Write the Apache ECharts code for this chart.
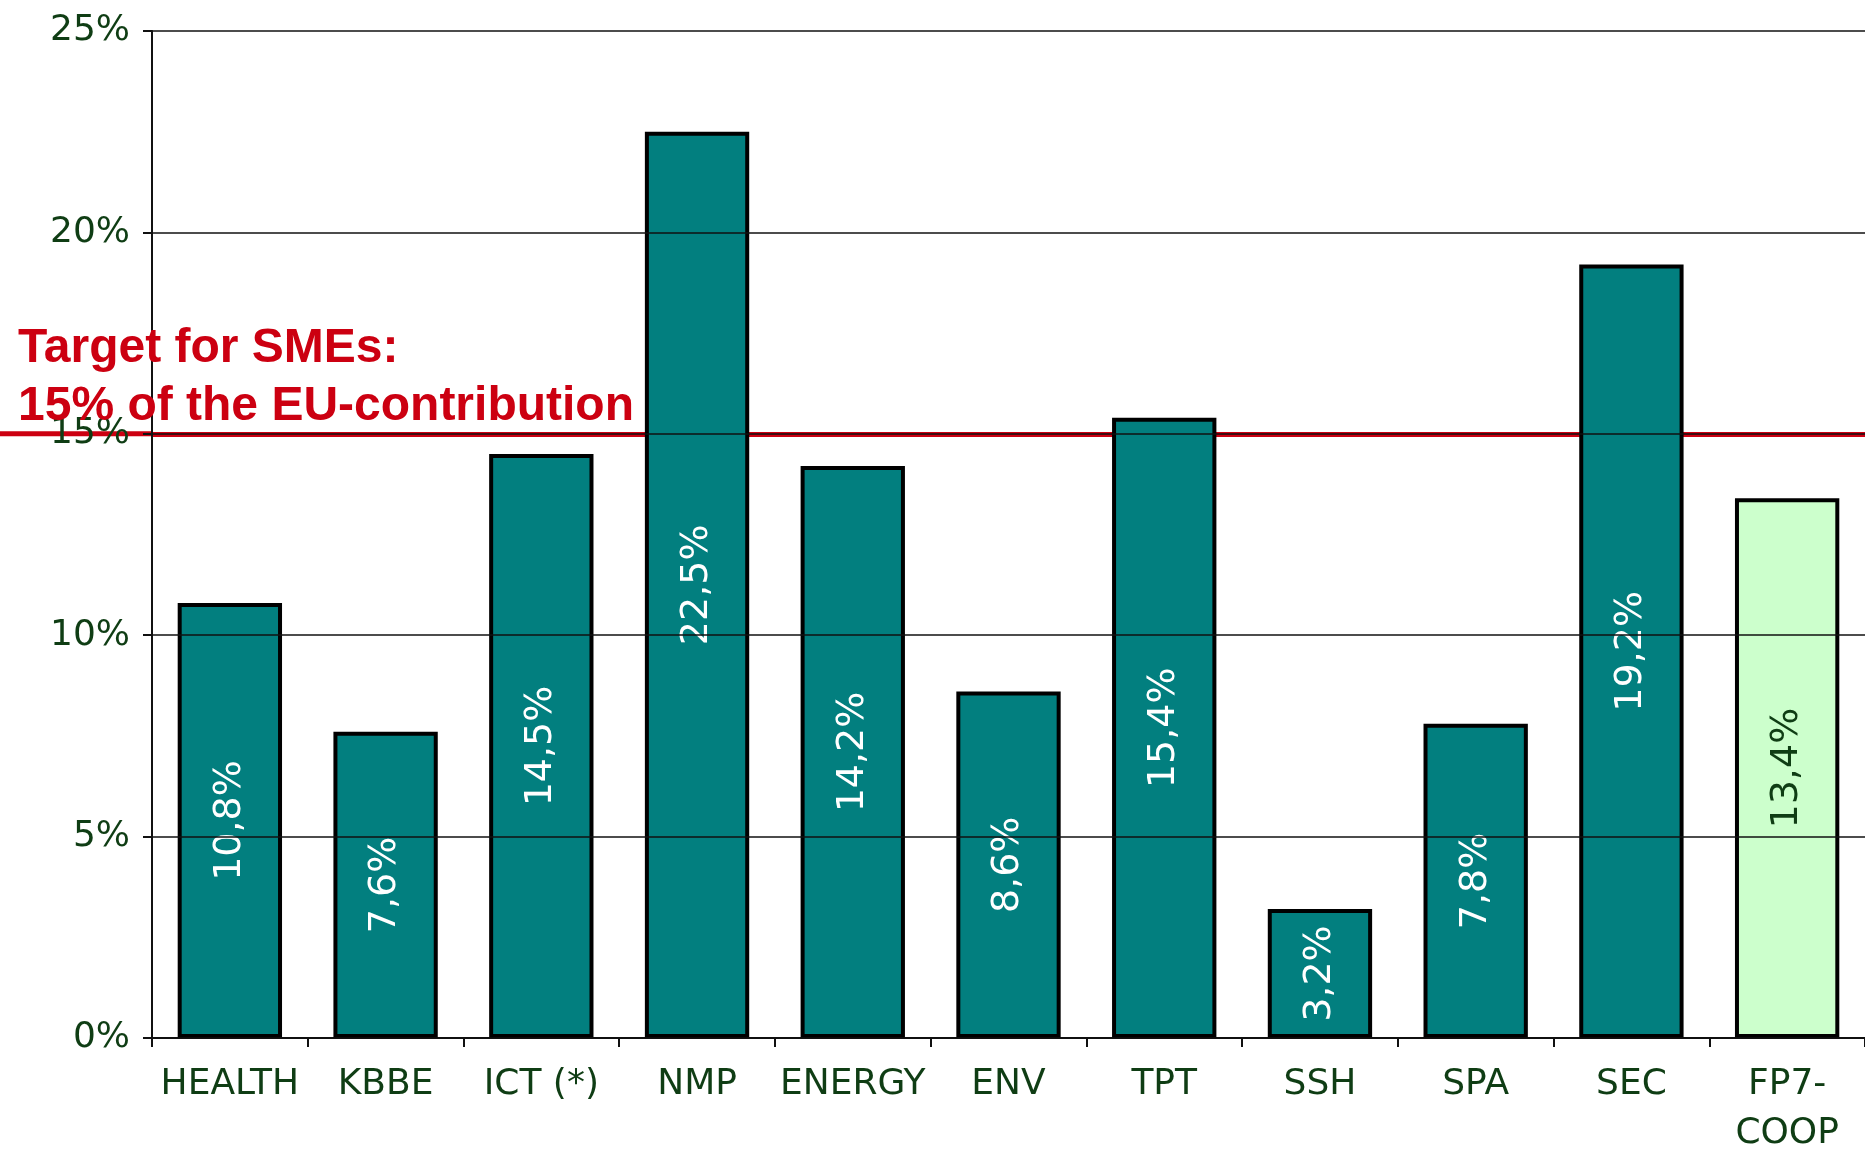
<!DOCTYPE html>
<html>
<head>
<meta charset="utf-8">
<script src="https://cdn.jsdelivr.net/npm/echarts@6/dist/echarts.min.js"></script>
<style>html,body{margin:0;padding:0;background:#fff;overflow:hidden;}#chart{width:1865px;height:1158px;}</style>
</head>
<body>
<div id="chart"></div>
<script>
const categories = ['HEALTH', 'KBBE', 'ICT (*)', 'NMP', 'ENERGY', 'ENV', 'TPT', 'SSH', 'SPA', 'SEC', 'FP7-\nCOOP'];
const smeShare = [10.8, 7.6, 14.5, 22.5, 14.2, 8.6, 15.4, 3.2, 7.8, 19.2, 13.4];
const targetValue = 15;
const targetText = ['Target for SMEs:', '15% of the EU-contribution'];
const yTicks = [0, 5, 10, 15, 20, 25];

const teal = '#027f7f';
const lightGreen = '#ccffcc';
const darkGreen = '#0f3d14';
const red = '#cc0011';

const chart = echarts.init(document.getElementById('chart'));
const barData = smeShare.map((v, i) => {
  const last = i === smeShare.length - 1;
  return {
    value: v,
    itemStyle: { color: last ? lightGreen : teal },
    label: { color: last ? darkGreen : '#ffffff' }
  };
});

chart.setOption({
  animation: false,
  backgroundColor: '#ffffff',
  grid: { left: 152, top: 31, width: 1721, height: 1020, containLabel: false },
  xAxis: {
    type: 'category',
    data: categories,
    boundaryGap: true,
    axisLine: { lineStyle: { color: '#111', width: 2 } },
    axisTick: { show: true, length: 9, lineStyle: { color: '#111', width: 2 } },
    axisLabel: {
      interval: 0, margin: 22, color: darkGreen,
      fontFamily: 'DejaVu Sans', fontSize: 36, lineHeight: 49
    }
  },
  yAxis: {
    type: 'value',
    min: 0, max: 25, interval: 5,
    z: 5,
    axisLine: { show: true, lineStyle: { color: '#111', width: 2 } },
    axisTick: { show: true, length: 9, lineStyle: { color: '#111', width: 2 } },
    splitLine: { show: true, lineStyle: { color: '#111', width: 1.5 } },
    axisLabel: {
      margin: 22, color: darkGreen, fontFamily: 'DejaVu Sans', fontSize: 36,
      formatter: v => yTicks.indexOf(v) >= 0 ? v + '%' : ''
    }
  },
  series: [
    {
      type: 'line',
      data: [],
      z: 1,
      markLine: {
        silent: true,
        symbol: 'none',
        z: 1,
        label: { show: false },
        lineStyle: { color: red, width: 5, type: 'solid' },
        data: [{ yAxis: targetValue }]
      }
    },
    {
      type: 'bar',
      data: barData,
      barWidth: '67%',
      z: 3,
      itemStyle: { borderColor: '#000', borderWidth: 4 },
      label: {
        show: true, position: 'inside', rotate: 90,
        fontFamily: 'DejaVu Sans', fontSize: 38,
        formatter: p => String(p.value).replace('.', ',') + '%'
      }
    }
  ]
});

const yPix = chart.convertToPixel({ yAxisIndex: 0 }, targetValue);
chart.setOption({
  graphic: [
    {
      type: 'line', z: 1, silent: true,
      shape: { x1: 0, y1: yPix, x2: 153, y2: yPix },
      style: { stroke: red, lineWidth: 5 }
    },
    {
      type: 'text', z: 10, left: 18, top: yPix - 109,
      style: { text: targetText[0], fill: red, font: 'bold 48px "Liberation Sans", Arial, sans-serif' }
    },
    {
      type: 'text', z: 10, left: 18, top: yPix - 51,
      style: { text: targetText[1], fill: red, font: 'bold 48px "Liberation Sans", Arial, sans-serif' }
    }
  ]
});
</script>
</body>
</html>
